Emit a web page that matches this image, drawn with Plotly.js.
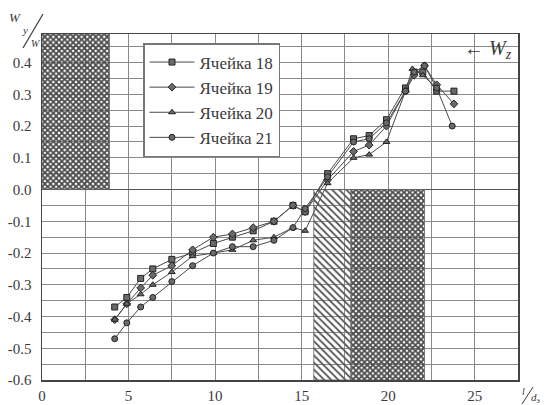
<!DOCTYPE html>
<html>
<head>
<meta charset="utf-8">
<script src="https://cdn.plot.ly/plotly-3.0.1.min.js"></script>
<style>
  html, body { margin: 0; padding: 0; background: #fff; }
  #chart { width: 547px; height: 405px; }
</style>
</head>
<body>
<div id="chart"></div>
<script>
// Relative velocity W_y/W along the channel (l/d_e) for four cells
const xCell18 = [4.2, 4.9, 5.7, 6.4, 7.5, 8.7, 9.9, 11.0, 12.2, 13.4, 14.5, 15.2, 16.5, 18.0, 18.9, 19.9, 21.0, 21.5, 22.0, 22.8, 23.8];
const yCell18 = [-0.37, -0.34, -0.28, -0.25, -0.22, -0.20, -0.17, -0.15, -0.13, -0.10, -0.05, -0.07, 0.05, 0.16, 0.17, 0.22, 0.32, 0.37, 0.37, 0.31, 0.31];

const xCell19 = [4.2, 4.9, 5.7, 6.4, 7.5, 8.7, 9.9, 11.0, 12.2, 13.4, 14.5, 15.2, 16.5, 18.0, 18.9, 19.9, 21.0, 21.5, 22.1, 22.8, 23.8];
const yCell19 = [-0.41, -0.36, -0.31, -0.27, -0.24, -0.19, -0.15, -0.14, -0.12, -0.10, -0.05, -0.07, 0.03, 0.12, 0.14, 0.20, 0.31, 0.36, 0.39, 0.33, 0.27];

const xCell20 = [4.2, 4.9, 5.7, 6.4, 7.5, 8.7, 9.9, 11.0, 12.2, 13.4, 14.5, 15.2, 16.5, 18.0, 18.9, 19.9, 21.0, 21.4, 22.0, 22.8];
const yCell20 = [-0.41, -0.36, -0.33, -0.30, -0.26, -0.21, -0.20, -0.19, -0.16, -0.15, -0.12, -0.13, 0.02, 0.10, 0.11, 0.15, 0.31, 0.38, 0.36, 0.32];

const xCell21 = [4.2, 4.9, 5.7, 6.4, 7.5, 8.7, 9.9, 11.0, 12.2, 13.4, 14.5, 15.2, 16.5, 18.0, 18.9, 19.9, 21.0, 21.5, 22.1, 22.8, 23.7];
const yCell21 = [-0.47, -0.42, -0.37, -0.34, -0.29, -0.24, -0.20, -0.18, -0.18, -0.16, -0.12, -0.06, 0.04, 0.15, 0.16, 0.21, 0.31, 0.37, 0.39, 0.32, 0.20];

const seriesNames = ['Ячейка 18', 'Ячейка 19', 'Ячейка 20', 'Ячейка 21'];

// Shaded zones: [x start, x end, y bottom, y top]
const crossZones = [[0, 3.9, 0, 0.49], [17.85, 22.1, -0.6, 0]];
const slashZones = [[15.7, 17.85, -0.6, 0]];

const yTickVals = [0.4, 0.3, 0.2, 0.1, 0.0, -0.1, -0.2, -0.3, -0.4, -0.5, -0.6];
const yTickText = ['0.4', '0.3', '0.2', '0.1', '0.0', '-0.1', '-0.2', '-0.3', '-0.4', '-0.5', '-0.6'];
const xTickVals = [0, 5, 10, 15, 20, 25];
const xTickText = ['0', '5', '10', '15', '20', '25'];

const W = 547, H = 405;
const M = { l: 42, r: 29, t: 34, b: 25 };
const pw = W - M.l - M.r, ph = H - M.t - M.b;
const px = v => (v - M.l) / pw;            // page pixel -> paper x
const py = v => (H - M.b - v) / ph;        // page pixel -> paper y

const serif = 'Liberation Serif';
const ink = '#3a3a3a';

function zoneTrace(z, pattern) {
  return {
    type: 'bar',
    x: z.map(r => (r[0] + r[1]) / 2),
    y: z.map(r => r[3] - r[2]),
    base: z.map(r => r[2]),
    width: z.map(r => r[1] - r[0]),
    marker: {
      color: 'rgba(0,0,0,0)',
      line: { width: 0.8, color: '#666' },
      pattern: pattern
    },
    showlegend: false,
    hoverinfo: 'skip'
  };
}

const symbols = ['square', 'diamond', 'triangle-up', 'circle'];
const xs = [xCell18, xCell19, xCell20, xCell21];
const ys = [yCell18, yCell19, yCell20, yCell21];

const lineTraces = seriesNames.map((n, i) => ({
  type: 'scatter',
  mode: 'lines+markers',
  name: n,
  x: xs[i],
  y: ys[i],
  line: { color: '#4a4a4a', width: 1 },
  marker: { symbol: symbols[i], size: 6, color: '#6a6a6a', line: { color: '#222', width: 1 } }
}));

const data = [
  zoneTrace(crossZones, { shape: 'x', size: 4, solidity: 0.7, fgcolor: '#4a4a4a', bgcolor: 'rgba(0,0,0,0)' }),
  zoneTrace(slashZones, { shape: '\\', size: 5, solidity: 0.35, fgcolor: '#555', bgcolor: 'rgba(0,0,0,0)' })
].concat(lineTraces);

function label(xp, yp, text, size) {
  return { xref: 'paper', yref: 'paper', x: px(xp), y: py(yp), xanchor: 'center', yanchor: 'middle',
           text: text, showarrow: false, font: { family: serif, size: size, color: ink } };
}

const layout = {
  width: W, height: H,
  margin: M,
  paper_bgcolor: '#fff',
  plot_bgcolor: '#fff',
  barmode: 'overlay',
  showlegend: true,
  font: { family: serif, color: ink, size: 14 },
  xaxis: {
    range: [0, 27.5],
    tickvals: xTickVals, ticktext: xTickText,
    showgrid: true, gridcolor: '#8a8a8a', gridwidth: 1,
    minor: { dtick: 2.5, tick0: 0, showgrid: true, gridcolor: '#8a8a8a', gridwidth: 1 },
    zeroline: false,
    showline: true, mirror: true, linecolor: '#444', linewidth: 1.5,
    ticks: '', ticklabelstandoff: 1,
    tickfont: { family: serif, size: 15, color: ink }
  },
  yaxis: {
    range: [-0.6, 0.49],
    tickvals: yTickVals, ticktext: yTickText,
    showgrid: true, gridcolor: '#8a8a8a', gridwidth: 1,
    minor: { dtick: 0.05, tick0: 0, showgrid: true, gridcolor: '#8a8a8a', gridwidth: 1 },
    zeroline: true, zerolinecolor: '#555', zerolinewidth: 1.5,
    showline: true, mirror: true, linecolor: '#444', linewidth: 1.5,
    ticks: '', ticklabelstandoff: 6,
    tickfont: { family: serif, size: 15, color: ink }
  },
  legend: {
    x: px(143), y: py(43), xanchor: 'left', yanchor: 'top',
    bgcolor: '#fff', bordercolor: '#777', borderwidth: 1.5,
    font: { family: serif, size: 17, color: ink },
    itemwidth: 45,
    tracegroupgap: 0
  },
  shapes: [
    // clear patch behind the W_z label
    { type: 'rect', xref: 'paper', yref: 'paper', x0: px(463), x1: px(517), y0: py(68), y1: py(35),
      fillcolor: '#fff', line: { width: 0 }, layer: 'between' },
    // slash of the y-axis fraction
    { type: 'line', xref: 'paper', yref: 'paper', x0: px(23), y0: py(48), x1: px(43), y1: py(14),
      line: { color: ink, width: 1.2 } },
    // slash of the x-axis fraction
    { type: 'line', xref: 'paper', yref: 'paper', x0: px(522), y0: py(404), x1: px(533), y1: py(387),
      line: { color: ink, width: 1 } }
  ],
  annotations: [
    label(15, 17, '<i>W</i>', 13),
    label(25, 30, '<i>y</i>', 11),
    label(36, 43, '<i>W</i>', 10),
    label(523, 391, '<i>l</i>', 10),
    label(535, 398, '<i>d</i><sub>э</sub>', 11),
    label(488, 50, '← <i>W<sub>z</sub></i>', 20)
  ]
};

Plotly.newPlot('chart', data, layout, { staticPlot: true, displayModeBar: false });
</script>
</body>
</html>
